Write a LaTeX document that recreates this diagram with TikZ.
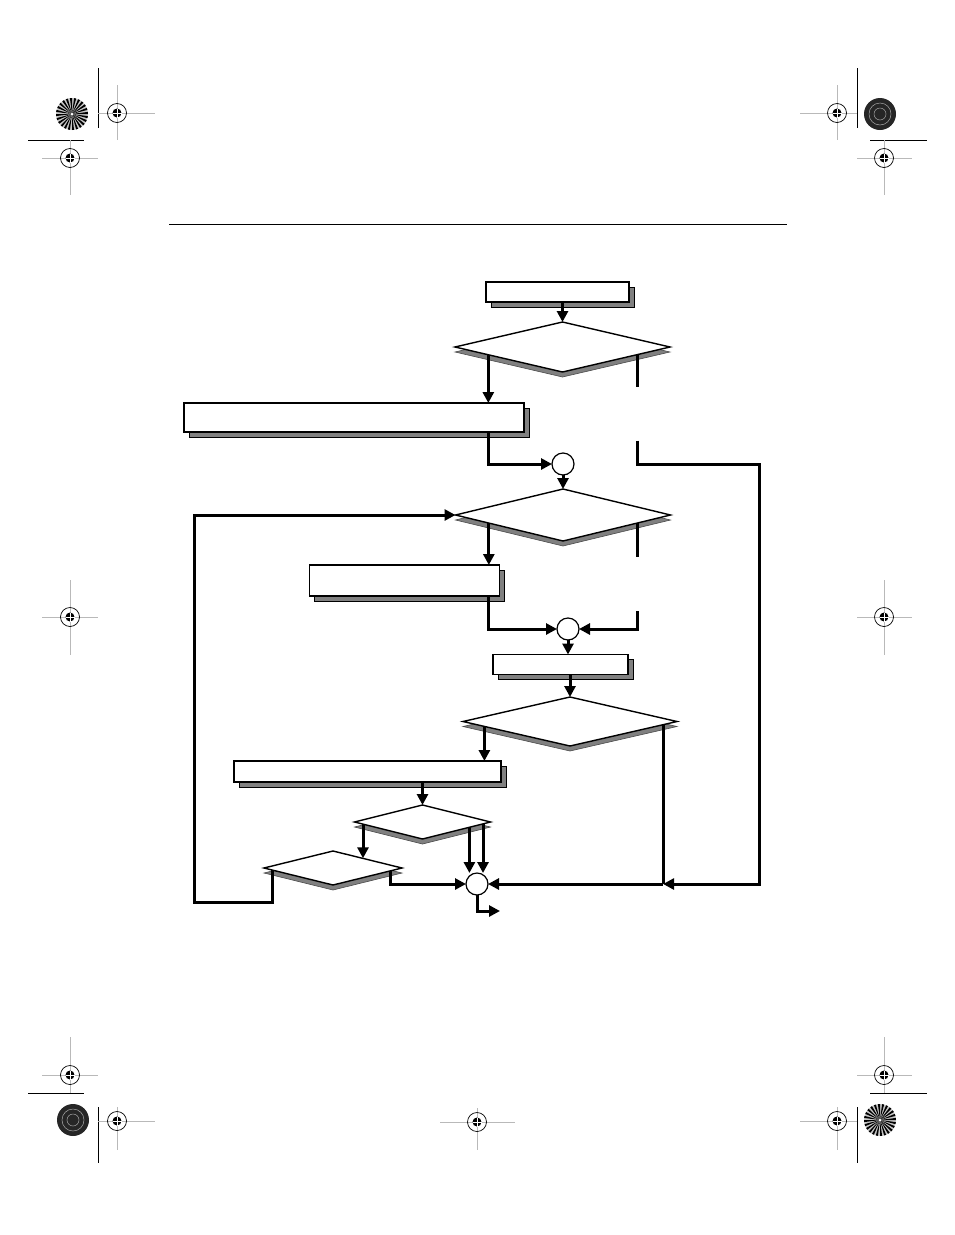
\documentclass[tikz,border=0pt]{standalone}
\usetikzlibrary{shapes.geometric,shadows,arrows.meta,calc}

\tikzset{
    flowbox/.style={draw, fill=white, line width=1.2pt, inner sep=0pt, outer sep=0pt,
        drop shadow={shadow xshift=5pt, shadow yshift=-5pt, fill=gray, draw=black, line width=0.8pt, opacity=1}},
    ask/.style={diamond, draw, fill=white, line width=1.4pt, inner sep=0pt, outer sep=0pt,
        drop shadow={shadow xshift=0pt, shadow yshift=-5pt, fill=gray, draw=gray!60!black, line width=0.6pt, opacity=1}},
    joint/.style={circle, draw, fill=white, line width=1.2pt, minimum size=22pt, inner sep=0pt, outer sep=0pt},
    wire/.style={line width=3pt},
    flow/.style={wire, -{Triangle[length=11pt, width=11pt]}},
    cropline/.style={line width=1pt},
    hairline/.style={line width=1pt, gray!55},
}

\newcommand{\regmark}[1]{%
    \draw[line width=0.7pt] (#1) circle (9.5pt);
    \fill (#1) circle (4.5pt);
    \draw[white, line width=0.7pt] ($(#1)+(-4.5,0)$) -- ($(#1)+(4.5,0)$)
        ($(#1)+(0,-4.5)$) -- ($(#1)+(0,4.5)$);
}

\begin{document}
\begin{tikzpicture}[x=1pt, y=-1pt]
    \useasboundingbox (0,0) rectangle (954,1235);

    \draw[line width=1pt] (169,224) -- (787,224);

    \node[flowbox, minimum width=143pt, minimum height=20pt] (start) at (557.5,292) {};
    \node[ask, minimum width=215pt, minimum height=50pt] (q1) at (562.5,347) {};
    \node[flowbox, minimum width=340pt, minimum height=29pt] (setup) at (354,417.5) {};
    \node[joint] (j1) at (563,464) {};
    \node[ask, minimum width=215pt, minimum height=52pt] (q2) at (563,515) {};
    \node[flowbox, minimum width=190pt, minimum height=31pt] (prep) at (404.5,580.5) {};
    \node[joint] (j2) at (568,629) {};
    \node[flowbox, minimum width=135pt, minimum height=20pt] (run) at (560.5,664.5) {};
    \node[ask, minimum width=214pt, minimum height=49pt] (q3) at (570,721.5) {};
    \node[flowbox, minimum width=267pt, minimum height=21pt] (fix) at (367.5,771.5) {};
    \node[ask, minimum width=136pt, minimum height=34pt] (q4) at (422.5,822) {};
    \node[ask, minimum width=138pt, minimum height=34pt] (q5) at (333,868) {};
    \node[joint] (j3) at (477,884) {};

    \coordinate (q1l) at ($(q1.west)!0.31!(q1.south)$);
    \coordinate (q1r) at ($(q1.east)!0.30!(q1.south)$);
    \coordinate (q1gap) at ($(q1r)+(0,32)$);
    \coordinate (q1back) at ($(q1r)+(0,86)$);
    \coordinate (rloop) at ($(q1back |- j1)+(122,0)$);
    \coordinate (q2l) at ($(q2.west)!0.31!(q2.south)$);
    \coordinate (q2r) at ($(q2.east)!0.31!(q2.south)$);
    \coordinate (q2gap) at ($(q2r)+(0,34)$);
    \coordinate (q2back) at ($(q2r)+(0,88)$);
    \coordinate (q3l) at ($(q3.west)!0.2!(q3.south)$);
    \coordinate (q3r) at ($(q3.east)!0.13!(q3.south)$);
    \coordinate (join) at (q3r |- j3);
    \coordinate (q4l) at ($(q4.west)!0.125!(q4.south)$);
    \coordinate (q4a) at ($(q4.east)!0.31!(q4.south)$);
    \coordinate (q4b) at ($(q4.east)!0.11!(q4.south)$);
    \coordinate (q5top) at ($(q5.north)!0.43!(q5.east)$);
    \coordinate (q5l) at ($(q5.west)!0.12!(q5.south)$);
    \coordinate (q5r) at ($(q5.east)!0.17!(q5.south)$);
    \coordinate (lloop) at ($(q5l)+(-78,32)$);
    \coordinate (exit) at ($(j3.south)+(23,16)$);

    \draw[flow] (q1.north |- start.south) -- (q1.north);
    \draw[flow] (q1l) -- (q1l |- setup.north);
    \draw[wire] (q1r) -- (q1gap);
    \draw[flow] (q1back) |- (rloop) |- (join);
    \draw[flow] (setup.south -| q1l) |- (j1);
    \draw[flow] (j1) -- (q2.north);
    \draw[flow] (q2l) -- (q2l |- prep.north);
    \draw[wire] (q2r) -- (q2gap);
    \draw[flow] (q2back) |- (j2);
    \draw[flow] (prep.south -| q2l) |- (j2);
    \draw[flow] (j2) -- (j2 |- run.north);
    \draw[flow] (q3.north |- run.south) -- (q3.north);
    \draw[flow] (q3l) -- (q3l |- fix.north);
    \draw[wire] (q3r) -- (join);
    \draw[flow] (join) -- (j3);
    \draw[flow] (q4.north |- fix.south) -- (q4.north);
    \draw[flow] (q4l) -- (q4l |- q5top);
    \draw[flow] (q4a) -- (q4a |- j3.north);
    \draw[flow] (q4b) -- (q4b |- j3.north);
    \draw[flow] (q5l) |- (lloop) |- (q2.west);
    \draw[flow] (q5r) |- (j3);
    \draw[flow] (j3) |- (exit);

    \draw[cropline] (98,68) -- (98,128) (28,140) -- (84,140);
    \draw[cropline] (857,68) -- (857,128) (870,140) -- (927,140);
    \draw[cropline] (28,1093) -- (84,1093) (98,1107) -- (98,1163);
    \draw[cropline] (870,1093) -- (927,1093) (857,1107) -- (857,1163);

    \foreach \cx/\cy/\ha/\hb/\va/\vb in {117/113/98/155/85/140, 70/158/42/98/140/195,
            837/113/800/857/85/140, 884/158/857/912/140/195,
            70/617/42/98/580/655, 884/617/857/912/580/655,
            70/1075/42/98/1037/1093, 117/1121/98/155/1107/1150,
            884/1075/857/912/1037/1093, 837/1121/800/857/1107/1150,
            477/1122/440/515/1108/1150} {
        \draw[hairline] (\ha,\cy) -- (\hb,\cy) (\cx,\va) -- (\cx,\vb);
        \regmark{\cx,\cy}
    }

    \foreach \cx/\cy in {72/114, 880/1120} {
        \fill[gray!45] (\cx,\cy) circle (16pt);
        \foreach \a in {0,15,...,345}
            \fill[black] (\cx,\cy) -- ++(\a:16pt) arc[start angle=\a, end angle=\a+7.5, radius=16pt] -- cycle;
        \fill[white] (\cx,\cy) circle (1.5pt);
    }
    \foreach \cx/\cy in {880/114, 73/1120} {
        \fill[black!85] (\cx,\cy) circle (16pt);
        \draw[gray!70, line width=0.5pt] (\cx,\cy) circle (6pt) (\cx,\cy) circle (11pt);
    }
\end{tikzpicture}
\end{document}
